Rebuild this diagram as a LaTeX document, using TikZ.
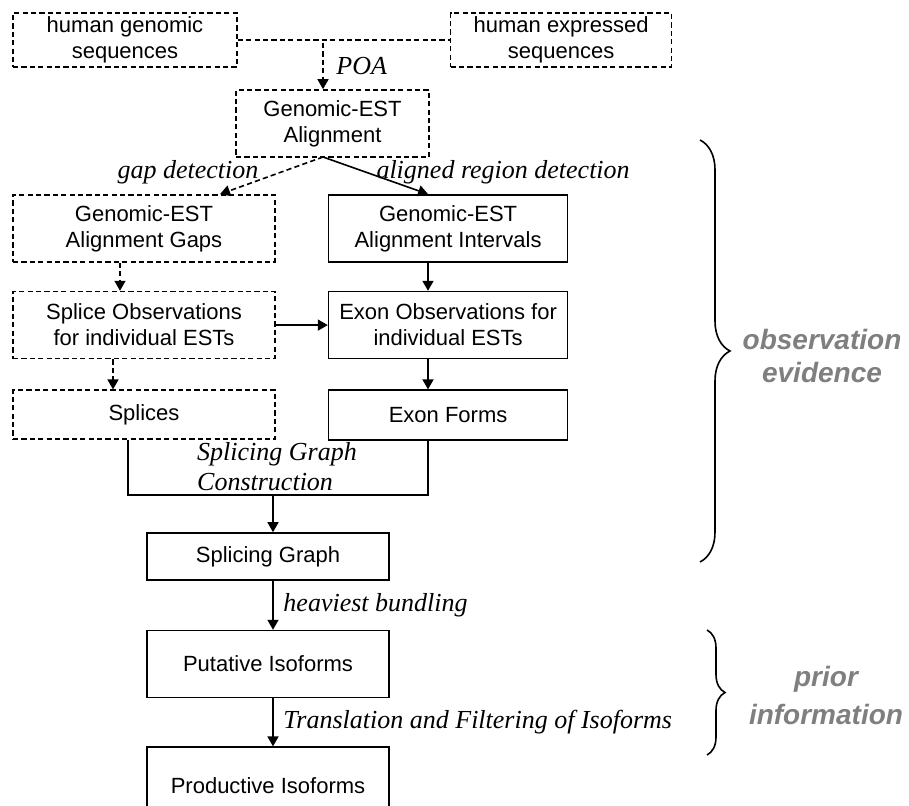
\documentclass[tikz,border=0pt]{standalone}
\usepackage{fontspec}
\setmainfont{Liberation Serif}
\setsansfont{Liberation Sans}
\usepackage{xcolor}
\usetikzlibrary{positioning, arrows.meta, decorations.pathreplacing}

\definecolor{notegray}{HTML}{7F7F7F}

\begin{document}
\begin{tikzpicture}[
  x=0.5pt, y=-0.5pt,
  node distance=14pt and 26pt,
  sbox/.style={rectangle, draw, line width=0.8pt, minimum width=119.5pt, minimum height=33.5pt, inner sep=1pt, text centered, font=\sffamily\fontsize{11}{13}\selectfont},
  dbox/.style={sbox, dash pattern=on 2.6pt off 1.6pt},
  lbl/.style={font=\itshape\fontsize{13}{15}\selectfont},
  note/.style={text=notegray, font=\sffamily\bfseries\itshape\fontsize{14}{16.5}\selectfont},
  arrow/.style={-{Triangle[length=5pt, width=5.5pt]}, line width=0.8pt},
  darrow/.style={arrow, dash pattern=on 2.6pt off 1.6pt},
  dline/.style={line width=0.8pt, dash pattern=on 2.6pt off 1.6pt},
  brace/.style={decorate, line width=0.8pt},
  every node/.style={align=center}
]
\useasboundingbox (0,0) rectangle (909,806);

%% Sources
\node[dbox, minimum width=112pt, minimum height=27pt] (genomic) at (125,40) {human genomic\\sequences};
\node[dbox, minimum width=110.5pt, minimum height=27pt, right=106pt of genomic] (expressed) {human expressed\\sequences};
\node[dbox, minimum width=96.5pt] (gea) at (332.5,123.5) {Genomic-EST\\Alignment};

%% Left Branch: gaps and splices
\node[dbox, minimum width=131pt] (gaps) at (144,228.5) {Genomic-EST\\Alignment Gaps};
\node[dbox, minimum width=131pt, below=14pt of gaps] (spobs) {Splice Observations\\for individual ESTs};
\node[dbox, minimum width=131pt, minimum height=24.5pt, below=15pt of spobs] (splices) {Splices};

%% Right Branch: intervals and exons
\node[sbox, right=26pt of gaps] (intervals) {Genomic-EST\\Alignment Intervals};
\node[sbox, below=14pt of intervals] (exobs) {Exon Observations for\\individual ESTs};
\node[sbox, minimum height=25pt, below=15pt of exobs] (exforms) {Exon Forms};

%% Graph and isoforms
\node[sbox, minimum width=121pt, minimum height=23.5pt] (sgraph) at (268,556.5) {Splicing Graph};
\node[sbox, minimum width=121pt, below=24.5pt of sgraph] (putative) {Putative Isoforms};
\node[sbox, minimum width=121pt, minimum height=38pt, below=24pt of putative, text depth=0pt] (productive) {Productive Isoforms};

%% Connections
\coordinate (poa) at (323,43);
\draw[dline] (genomic.east) -- (expressed.west);
\draw[darrow] (poa) -- (poa |- gea.north) node[midway, right, xshift=3pt, lbl] {POA};

\coordinate (split) at (323,157);
\draw[darrow] (split) -- ([xshift=38pt]gaps.north) node[pos=0.4, left, xshift=-8pt, lbl] {gap detection};
\draw[arrow] (split) -- ([xshift=-10pt]intervals.north) node[pos=0.4, right, xshift=2pt, lbl] {aligned region detection};

\draw[darrow] ([xshift=-12pt]gaps.south) -- ([xshift=-12pt]spobs.north);
\draw[darrow] ([xshift=-15.5pt]spobs.south) -- ([xshift=-15.5pt]splices.north);
\draw[arrow] (spobs) -- (exobs);

\coordinate (mleft) at (128,495);
\coordinate (mright) at (428,495);
\coordinate (mdown) at (273,495);
\draw[arrow] (intervals.south -| mright) -- (exobs.north -| mright);
\draw[arrow] (exobs.south -| mright) -- (exforms.north -| mright);
\draw[line width=0.8pt] (splices.south -| mleft) -- (mleft) -- (mright) -- (exforms.south -| mright);
\node[lbl, align=left] (sgcons) at (277,467) {Splicing Graph\\Construction};
\draw[arrow] (mdown) -- (mdown |- sgraph.north);

\draw[arrow] (sgraph.south -| mdown) -- (putative.north -| mdown) node[midway, right, xshift=1.5pt, lbl] {heaviest bundling};
\draw[arrow] (putative.south -| mdown) -- (productive.north -| mdown) node[midway, right, xshift=1.5pt, lbl] {Translation and Filtering of Isoforms};

%% Braces
\coordinate (obstop) at (700,140);
\coordinate (obsbot) at (700,562);
\draw[brace, decoration={brace, amplitude=15pt}] (obstop) -- (obsbot);
\node[note] (observation) at (822,356) {observation\\evidence};

\coordinate (pritop) at (707,630);
\coordinate (pribot) at (707,755);
\draw[brace, decoration={brace, amplitude=9pt}] (pritop) -- (pribot);
\node[note, font=\sffamily\bfseries\itshape\fontsize{14}{19}\selectfont] (prior) at (826,695) {prior\\information};

\end{tikzpicture}
\end{document}
